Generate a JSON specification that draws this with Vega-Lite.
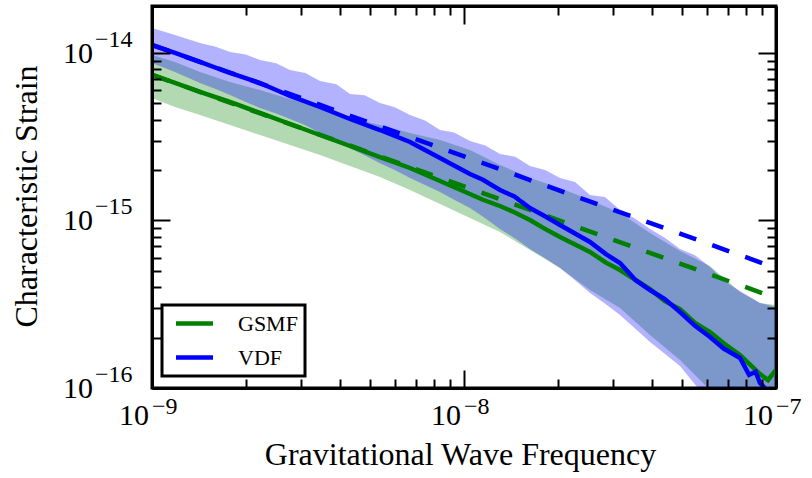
{
  "$schema": "https://vega.github.io/schema/vega-lite/v6.json",
  "width": 624,
  "height": 382,
  "autosize": {"type": "none"},
  "padding": {"left": 152, "top": 6, "right": 36, "bottom": 90},
  "background": "white",
  "config": {"view": {"stroke": "black", "strokeWidth": 3}, "font": "Liberation Serif"},
  "datasets": {
    "bands": [
      {"m": "GSMF", "f": 1e-9, "lo": 5.387e-15, "hi": 9.730e-15},
      {"m": "GSMF", "f": 1.185e-9, "lo": 4.760e-15, "hi": 8.838e-15},
      {"m": "GSMF", "f": 1.425e-9, "lo": 4.265e-15, "hi": 7.702e-15},
      {"m": "GSMF", "f": 1.778e-9, "lo": 3.716e-15, "hi": 6.714e-15},
      {"m": "GSMF", "f": 2.219e-9, "lo": 3.239e-15, "hi": 6.014e-15},
      {"m": "GSMF", "f": 2.769e-9, "lo": 2.823e-15, "hi": 5.314e-15},
      {"m": "GSMF", "f": 3.455e-9, "lo": 2.460e-15, "hi": 4.694e-15},
      {"m": "GSMF", "f": 4.311e-9, "lo": 2.116e-15, "hi": 4.092e-15},
      {"m": "GSMF", "f": 5.380e-9, "lo": 1.818e-15, "hi": 3.716e-15},
      {"m": "GSMF", "f": 6.713e-9, "lo": 1.521e-15, "hi": 3.330e-15},
      {"m": "GSMF", "f": 8.377e-9, "lo": 1.255e-15, "hi": 3.024e-15},
      {"m": "GSMF", "f": 1.045e-8, "lo": 1.035e-15, "hi": 2.635e-15},
      {"m": "GSMF", "f": 1.304e-8, "lo": 8.537e-16, "hi": 2.145e-15},
      {"m": "GSMF", "f": 1.627e-8, "lo": 6.667e-16, "hi": 1.794e-15},
      {"m": "GSMF", "f": 2.031e-8, "lo": 5.204e-16, "hi": 1.563e-15},
      {"m": "GSMF", "f": 2.534e-8, "lo": 3.846e-16, "hi": 1.326e-15},
      {"m": "GSMF", "f": 3.162e-8, "lo": 3.003e-16, "hi": 1.109e-15},
      {"m": "GSMF", "f": 3.946e-8, "lo": 2.072e-16, "hi": 8.421e-16},
      {"m": "GSMF", "f": 4.924e-8, "lo": 1.470e-16, "hi": 6.576e-16},
      {"m": "GSMF", "f": 6.144e-8, "lo": 9.73e-17, "hi": 5.350e-16},
      {"m": "GSMF", "f": 7.666e-8, "lo": 6.01e-17, "hi": 3.742e-16},
      {"m": "GSMF", "f": 8.887e-8, "lo": 4.57e-17, "hi": 3.217e-16},
      {"m": "GSMF", "f": 1e-7, "lo": 3.72e-17, "hi": 3.130e-16},
      {"m": "VDF", "f": 1e-9, "lo": 8.717e-15, "hi": 1.410e-14},
      {"m": "VDF", "f": 1.185e-9, "lo": 7.702e-15, "hi": 1.281e-14},
      {"m": "VDF", "f": 1.425e-9, "lo": 6.622e-15, "hi": 1.147e-14},
      {"m": "VDF", "f": 1.6e-9, "lo": 6.1e-15, "hi": 1.09e-14},
      {"m": "VDF", "f": 1.778e-9, "lo": 5.615e-15, "hi": 1.014e-14},
      {"m": "VDF", "f": 2.0e-9, "lo": 5.1e-15, "hi": 9.8e-15},
      {"m": "VDF", "f": 2.219e-9, "lo": 4.694e-15, "hi": 9.082e-15},
      {"m": "VDF", "f": 2.5e-9, "lo": 4.35e-15, "hi": 8.7e-15},
      {"m": "VDF", "f": 2.769e-9, "lo": 4.036e-15, "hi": 7.916e-15},
      {"m": "VDF", "f": 3.1e-9, "lo": 3.7e-15, "hi": 7.6e-15},
      {"m": "VDF", "f": 3.455e-9, "lo": 3.330e-15, "hi": 6.806e-15},
      {"m": "VDF", "f": 3.9e-9, "lo": 3.0e-15, "hi": 6.5e-15},
      {"m": "VDF", "f": 4.311e-9, "lo": 2.700e-15, "hi": 5.692e-15},
      {"m": "VDF", "f": 4.8e-9, "lo": 2.45e-15, "hi": 5.6e-15},
      {"m": "VDF", "f": 5.380e-9, "lo": 2.200e-15, "hi": 5.029e-15},
      {"m": "VDF", "f": 6.0e-9, "lo": 2.0e-15, "hi": 4.75e-15},
      {"m": "VDF", "f": 6.713e-9, "lo": 1.794e-15, "hi": 4.265e-15},
      {"m": "VDF", "f": 7.5e-9, "lo": 1.63e-15, "hi": 3.95e-15},
      {"m": "VDF", "f": 8.377e-9, "lo": 1.480e-15, "hi": 3.469e-15},
      {"m": "VDF", "f": 9.3e-9, "lo": 1.33e-15, "hi": 3.35e-15},
      {"m": "VDF", "f": 1.045e-8, "lo": 1.187e-15, "hi": 2.982e-15},
      {"m": "VDF", "f": 1.17e-8, "lo": 1.03e-15, "hi": 2.8e-15},
      {"m": "VDF", "f": 1.304e-8, "lo": 8.898e-16, "hi": 2.495e-15},
      {"m": "VDF", "f": 1.46e-8, "lo": 7.8e-16, "hi": 2.4e-15},
      {"m": "VDF", "f": 1.627e-8, "lo": 6.759e-16, "hi": 2.116e-15},
      {"m": "VDF", "f": 1.82e-8, "lo": 5.95e-16, "hi": 2.0e-15},
      {"m": "VDF", "f": 2.031e-8, "lo": 5.204e-16, "hi": 1.794e-15},
      {"m": "VDF", "f": 2.27e-8, "lo": 4.4e-16, "hi": 1.7e-15},
      {"m": "VDF", "f": 2.534e-8, "lo": 3.691e-16, "hi": 1.420e-15},
      {"m": "VDF", "f": 2.83e-8, "lo": 3.2e-16, "hi": 1.38e-15},
      {"m": "VDF", "f": 3.162e-8, "lo": 2.728e-16, "hi": 1.155e-15},
      {"m": "VDF", "f": 3.55e-8, "lo": 2.25e-16, "hi": 1.02e-15},
      {"m": "VDF", "f": 3.946e-8, "lo": 1.882e-16, "hi": 8.898e-16},
      {"m": "VDF", "f": 4.4e-8, "lo": 1.6e-16, "hi": 7.9e-16},
      {"m": "VDF", "f": 4.924e-8, "lo": 1.353e-16, "hi": 6.759e-16},
      {"m": "VDF", "f": 5.5e-8, "lo": 1.05e-16, "hi": 6.2e-16},
      {"m": "VDF", "f": 6.144e-8, "lo": 8.25e-17, "hi": 5.277e-16},
      {"m": "VDF", "f": 6.9e-8, "lo": 6.3e-17, "hi": 4.3e-16},
      {"m": "VDF", "f": 7.666e-8, "lo": 4.89e-17, "hi": 3.794e-16},
      {"m": "VDF", "f": 8.887e-8, "lo": 3.72e-17, "hi": 3.217e-16},
      {"m": "VDF", "f": 1e-7, "lo": 3.02e-17, "hi": 3.045e-16}
    ],
    "lines": [
      {"m": "GSMF", "f": 1e-9, "hc": 7.392e-15},
      {"m": "GSMF", "f": 1.185e-9, "hc": 6.622e-15},
      {"m": "GSMF", "f": 1.425e-9, "hc": 5.851e-15},
      {"m": "GSMF", "f": 1.778e-9, "hc": 5.099e-15},
      {"m": "GSMF", "f": 2.219e-9, "hc": 4.384e-15},
      {"m": "GSMF", "f": 2.769e-9, "hc": 3.768e-15},
      {"m": "GSMF", "f": 3.455e-9, "hc": 3.239e-15},
      {"m": "GSMF", "f": 4.311e-9, "hc": 2.785e-15},
      {"m": "GSMF", "f": 5.380e-9, "hc": 2.393e-15},
      {"m": "GSMF", "f": 6.713e-9, "hc": 2.058e-15},
      {"m": "GSMF", "f": 8.377e-9, "hc": 1.721e-15},
      {"m": "GSMF", "f": 1.045e-8, "hc": 1.440e-15},
      {"m": "GSMF", "f": 1.15e-8, "hc": 1.33e-15},
      {"m": "GSMF", "f": 1.304e-8, "hc": 1.221e-15},
      {"m": "GSMF", "f": 1.45e-8, "hc": 1.12e-15},
      {"m": "GSMF", "f": 1.627e-8, "hc": 1.007e-15},
      {"m": "GSMF", "f": 1.8e-8, "hc": 9.0e-16},
      {"m": "GSMF", "f": 2.031e-8, "hc": 7.970e-16},
      {"m": "GSMF", "f": 2.534e-8, "hc": 6.485e-16},
      {"m": "GSMF", "f": 2.85e-8, "hc": 5.6e-16},
      {"m": "GSMF", "f": 3.162e-8, "hc": 5.064e-16},
      {"m": "GSMF", "f": 3.946e-8, "hc": 3.899e-16},
      {"m": "GSMF", "f": 4.4e-8, "hc": 3.3e-16},
      {"m": "GSMF", "f": 4.924e-8, "hc": 2.962e-16},
      {"m": "GSMF", "f": 5.5e-8, "hc": 2.45e-16},
      {"m": "GSMF", "f": 6.144e-8, "hc": 2.160e-16},
      {"m": "GSMF", "f": 6.8e-8, "hc": 1.85e-16},
      {"m": "GSMF", "f": 7.666e-8, "hc": 1.574e-16},
      {"m": "GSMF", "f": 8.887e-8, "hc": 1.212e-16},
      {"m": "GSMF", "f": 9.428e-8, "hc": 1.116e-16},
      {"m": "GSMF", "f": 1e-7, "hc": 1.281e-16},
      {"m": "VDF", "f": 1e-9, "hc": 1.116e-14},
      {"m": "VDF", "f": 1.185e-9, "hc": 1.0e-14},
      {"m": "VDF", "f": 1.425e-9, "hc": 8.838e-15},
      {"m": "VDF", "f": 1.778e-9, "hc": 7.597e-15},
      {"m": "VDF", "f": 2.219e-9, "hc": 6.622e-15},
      {"m": "VDF", "f": 2.769e-9, "hc": 5.538e-15},
      {"m": "VDF", "f": 3.455e-9, "hc": 4.760e-15},
      {"m": "VDF", "f": 4.311e-9, "hc": 4.036e-15},
      {"m": "VDF", "f": 5.380e-9, "hc": 3.469e-15},
      {"m": "VDF", "f": 6.713e-9, "hc": 2.942e-15},
      {"m": "VDF", "f": 8.377e-9, "hc": 2.361e-15},
      {"m": "VDF", "f": 1.045e-8, "hc": 1.895e-15},
      {"m": "VDF", "f": 1.15e-8, "hc": 1.75e-15},
      {"m": "VDF", "f": 1.304e-8, "hc": 1.521e-15},
      {"m": "VDF", "f": 1.45e-8, "hc": 1.39e-15},
      {"m": "VDF", "f": 1.627e-8, "hc": 1.187e-15},
      {"m": "VDF", "f": 1.8e-8, "hc": 1.07e-15},
      {"m": "VDF", "f": 2.031e-8, "hc": 9.400e-16},
      {"m": "VDF", "f": 2.534e-8, "hc": 7.441e-16},
      {"m": "VDF", "f": 2.85e-8, "hc": 6.3e-16},
      {"m": "VDF", "f": 3.162e-8, "hc": 5.576e-16},
      {"m": "VDF", "f": 3.55e-8, "hc": 4.4e-16},
      {"m": "VDF", "f": 3.946e-8, "hc": 3.846e-16},
      {"m": "VDF", "f": 4.4e-8, "hc": 3.4e-16},
      {"m": "VDF", "f": 4.924e-8, "hc": 2.842e-16},
      {"m": "VDF", "f": 5.5e-8, "hc": 2.35e-16},
      {"m": "VDF", "f": 6.144e-8, "hc": 2.016e-16},
      {"m": "VDF", "f": 6.8e-8, "hc": 1.72e-16},
      {"m": "VDF", "f": 7.666e-8, "hc": 1.511e-16},
      {"m": "VDF", "f": 8.2e-8, "hc": 1.2e-16},
      {"m": "VDF", "f": 8.6e-8, "hc": 1.25e-16},
      {"m": "VDF", "f": 8.887e-8, "hc": 1.071e-16},
      {"m": "VDF", "f": 1e-7, "hc": 8.48e-17}
    ],
    "dashed": [
      {"m": "GSMF", "f": 1e-9, "hc": 7.42e-15},
      {"m": "GSMF", "f": 1e-7, "hc": 3.445e-16},
      {"m": "VDF", "f": 1e-9, "hc": 1.12e-14},
      {"m": "VDF", "f": 1e-7, "hc": 5.204e-16}
    ],
    "xlab": [
      {"v": 1e-9, "e": "−9"},
      {"v": 1e-8, "e": "−8"},
      {"v": 1e-7, "e": "−7"}
    ],
    "ylab": [
      {"v": 1e-16, "e": "−16"},
      {"v": 1e-15, "e": "−15"},
      {"v": 1e-14, "e": "−14"}
    ]
  },
  "resolve": {"axis": {"x": "independent", "y": "independent"}},
  "layer": [
    {
      "data": {"name": "bands"},
      "transform": [{"filter": "datum.m == 'GSMF'"}],
      "mark": {"type": "area", "color": "#008000", "opacity": 0.3, "clip": true},
      "encoding": {
        "x": {"field": "f", "type": "quantitative", "scale": {"type": "log", "domain": [1e-9, 1e-7], "nice": false},
          "axis": {"orient": "bottom", "values": [1e-9,2e-9,3e-9,4e-9,5e-9,6e-9,7e-9,8e-9,9e-9,1e-8,2e-8,3e-8,4e-8,5e-8,6e-8,7e-8,8e-8,9e-8,1e-7],
            "labels": false, "grid": false, "domain": true, "domainColor": "black", "domainWidth": 3,
            "tickColor": "black", "tickWidth": 2,
            "tickSize": {"condition": {"test": "abs(log(datum.value)/LN10 - round(log(datum.value)/LN10)) < 0.001", "value": -18}, "value": -9},
            "title": "Gravitational Wave Frequency", "titleFont": "Liberation Serif", "titleFontSize": 32, "titleFontWeight": "normal", "titleColor": "black",
            "titleX": 308, "titleY": 76, "titleAlign": "center", "titleBaseline": "alphabetic", "zindex": 1}},
        "y": {"field": "lo", "type": "quantitative", "scale": {"type": "log", "domain": [1e-16, 1.908e-14], "nice": false},
          "axis": {"orient": "left", "values": [1e-16,2e-16,3e-16,4e-16,5e-16,6e-16,7e-16,8e-16,9e-16,1e-15,2e-15,3e-15,4e-15,5e-15,6e-15,7e-15,8e-15,9e-15,1e-14],
            "labels": false, "grid": false, "domain": true, "domainColor": "black", "domainWidth": 3,
            "tickColor": "black", "tickWidth": 2,
            "tickSize": {"condition": {"test": "abs(log(datum.value)/LN10 - round(log(datum.value)/LN10)) < 0.001", "value": -18}, "value": -9},
            "title": "Characteristic Strain", "titleFont": "Liberation Serif", "titleFontSize": 32, "titleFontWeight": "normal", "titleColor": "black",
            "titleX": -116, "titleY": 190, "titleAngle": 270, "titleAlign": "center", "titleBaseline": "alphabetic", "zindex": 1}},
        "y2": {"field": "hi"}
      }
    },
    {
      "data": {"name": "bands"},
      "transform": [{"filter": "datum.m == 'VDF'"}],
      "mark": {"type": "area", "color": "#0000ff", "opacity": 0.3, "clip": true},
      "encoding": {
        "x": {"field": "f", "type": "quantitative", "scale": {"type": "log", "domain": [1e-9, 1e-7], "nice": false},
          "axis": {"orient": "top", "values": [1e-9,2e-9,3e-9,4e-9,5e-9,6e-9,7e-9,8e-9,9e-9,1e-8,2e-8,3e-8,4e-8,5e-8,6e-8,7e-8,8e-8,9e-8,1e-7],
            "labels": false, "grid": false, "domain": true, "domainColor": "black", "domainWidth": 3,
            "tickColor": "black", "tickWidth": 2,
            "tickSize": {"condition": {"test": "abs(log(datum.value)/LN10 - round(log(datum.value)/LN10)) < 0.001", "value": -18}, "value": -9},
            "title": null, "zindex": 1}},
        "y": {"field": "lo", "type": "quantitative", "scale": {"type": "log", "domain": [1e-16, 1.908e-14], "nice": false},
          "axis": {"orient": "right", "values": [1e-16,2e-16,3e-16,4e-16,5e-16,6e-16,7e-16,8e-16,9e-16,1e-15,2e-15,3e-15,4e-15,5e-15,6e-15,7e-15,8e-15,9e-15,1e-14],
            "labels": false, "grid": false, "domain": true, "domainColor": "black", "domainWidth": 3,
            "tickColor": "black", "tickWidth": 2,
            "tickSize": {"condition": {"test": "abs(log(datum.value)/LN10 - round(log(datum.value)/LN10)) < 0.001", "value": -18}, "value": -9},
            "title": null, "zindex": 1}},
        "y2": {"field": "hi"}
      }
    },
    {
      "data": {"name": "dashed"},
      "transform": [{"filter": "datum.m == 'GSMF'"}],
      "mark": {"type": "line", "color": "#008000", "strokeWidth": 4.5, "strokeDash": [18, 17], "clip": true},
      "encoding": {
        "x": {"field": "f", "type": "quantitative", "scale": {"type": "log", "domain": [1e-9, 1e-7], "nice": false}, "axis": null},
        "y": {"field": "hc", "type": "quantitative", "scale": {"type": "log", "domain": [1e-16, 1.908e-14], "nice": false}, "axis": null}
      }
    },
    {
      "data": {"name": "dashed"},
      "transform": [{"filter": "datum.m == 'VDF'"}],
      "mark": {"type": "line", "color": "#0000ff", "strokeWidth": 4.5, "strokeDash": [18, 17], "clip": true},
      "encoding": {
        "x": {"field": "f", "type": "quantitative", "scale": {"type": "log", "domain": [1e-9, 1e-7], "nice": false}, "axis": null},
        "y": {"field": "hc", "type": "quantitative", "scale": {"type": "log", "domain": [1e-16, 1.908e-14], "nice": false}, "axis": null}
      }
    },
    {
      "data": {"name": "lines"},
      "mark": {"type": "line", "strokeWidth": 4.5, "clip": true},
      "encoding": {
        "x": {"field": "f", "type": "quantitative", "scale": {"type": "log", "domain": [1e-9, 1e-7], "nice": false}, "axis": null},
        "y": {"field": "hc", "type": "quantitative", "scale": {"type": "log", "domain": [1e-16, 1.908e-14], "nice": false}, "axis": null},
        "color": {"field": "m", "type": "nominal", "scale": {"domain": ["GSMF", "VDF"], "range": ["#008000", "#0000ff"]},
          "legend": {"orient": "none", "legendX": 10, "legendY": 299, "title": null,
            "symbolType": "M-2,0H2", "symbolSize": 342, "symbolStrokeWidth": 4.5, "symbolOffset": 14,
            "labelFont": "Liberation Serif", "labelFontSize": 22, "labelColor": "black", "labelOffset": 32,
            "labelExpr": "datum.label + '\u00a0'",
            "padding": 7, "rowPadding": 11, "cornerRadius": 0,
            "encode": {"legend": {"update": {"fill": {"value": "white"}, "stroke": {"value": "black"}, "strokeWidth": {"value": 3}}}}}}
      }
    },
    {
      "data": {"name": "xlab"},
      "mark": {"type": "text", "text": "10", "align": "right", "baseline": "alphabetic", "dx": -3, "dy": 37, "fontSize": 30, "font": "Liberation Serif", "color": "black"},
      "encoding": {
        "x": {"field": "v", "type": "quantitative", "scale": {"type": "log", "domain": [1e-9, 1e-7], "nice": false}, "axis": null},
        "y": {"datum": 1e-16, "type": "quantitative", "scale": {"type": "log", "domain": [1e-16, 1.908e-14], "nice": false}, "axis": null}
      }
    },
    {
      "data": {"name": "xlab"},
      "mark": {"type": "text", "align": "left", "baseline": "alphabetic", "dx": 0, "dy": 26, "fontSize": 24, "font": "Liberation Serif", "color": "black"},
      "encoding": {
        "text": {"field": "e"},
        "x": {"field": "v", "type": "quantitative", "scale": {"type": "log", "domain": [1e-9, 1e-7], "nice": false}, "axis": null},
        "y": {"datum": 1e-16, "type": "quantitative", "scale": {"type": "log", "domain": [1e-16, 1.908e-14], "nice": false}, "axis": null}
      }
    },
    {
      "data": {"name": "ylab"},
      "mark": {"type": "text", "text": "10", "align": "right", "baseline": "alphabetic", "dx": -59, "dy": 10, "fontSize": 30, "font": "Liberation Serif", "color": "black"},
      "encoding": {
        "y": {"field": "v", "type": "quantitative", "scale": {"type": "log", "domain": [1e-16, 1.908e-14], "nice": false}, "axis": null},
        "x": {"datum": 1e-9, "type": "quantitative", "scale": {"type": "log", "domain": [1e-9, 1e-7], "nice": false}, "axis": null}
      }
    },
    {
      "data": {"name": "ylab"},
      "mark": {"type": "text", "align": "left", "baseline": "alphabetic", "dx": -57, "dy": -6, "fontSize": 24, "font": "Liberation Serif", "color": "black"},
      "encoding": {
        "text": {"field": "e"},
        "y": {"field": "v", "type": "quantitative", "scale": {"type": "log", "domain": [1e-16, 1.908e-14], "nice": false}, "axis": null},
        "x": {"datum": 1e-9, "type": "quantitative", "scale": {"type": "log", "domain": [1e-9, 1e-7], "nice": false}, "axis": null}
      }
    }
  ]
}
